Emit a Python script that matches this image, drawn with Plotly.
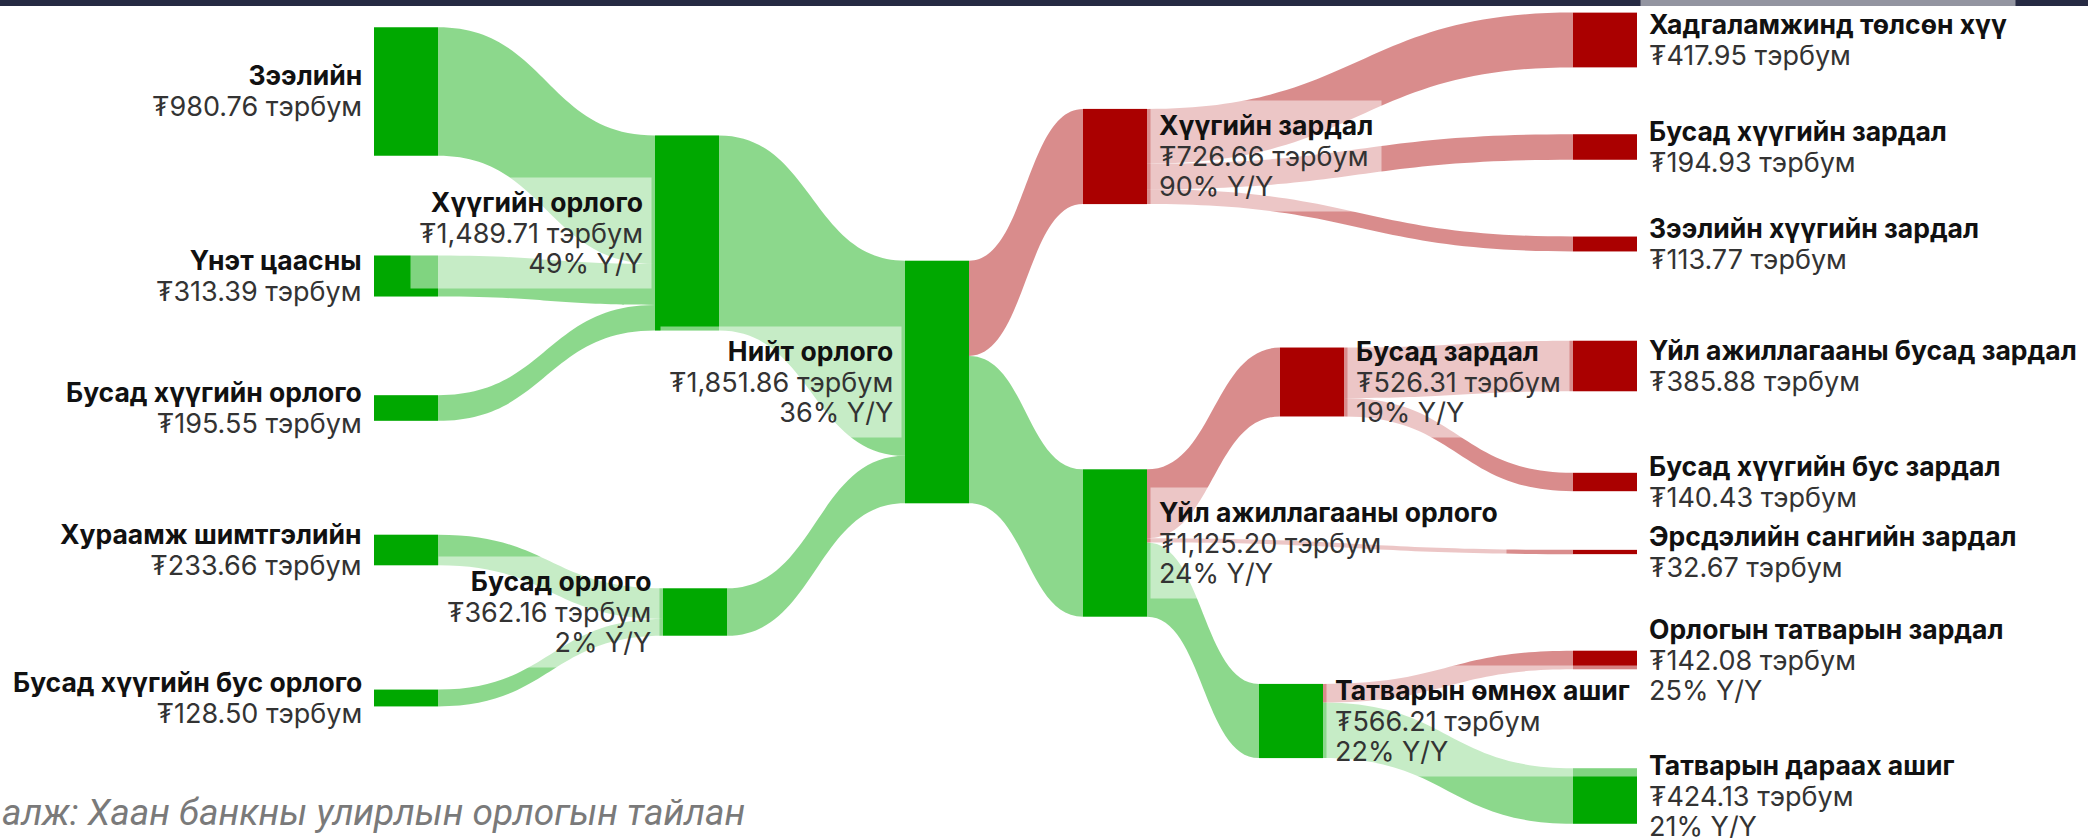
import plotly.graph_objects as go

# ---------------- data ----------------
node_names = [
    "Зээлийн", "Үнэт цаасны", "Бусад хүүгийн орлого", "Хураамж шимтгэлийн",
    "Бусад хүүгийн бус орлого", "Хүүгийн орлого", "Бусад орлого", "Нийт орлого",
    "Хүүгийн зардал", "Үйл ажиллагааны орлого", "Бусад зардал", "Татварын өмнөх ашиг",
    "Хадгаламжинд төлсөн хүү", "Бусад хүүгийн зардал", "Зээлийн хүүгийн зардал",
    "Үйл ажиллагааны бусад зардал", "Бусад хүүгийн бус зардал",
    "Эрсдэлийн сангийн зардал", "Орлогын татварын зардал", "Татварын дараах ашиг",
]
node_values = [
    980.76, 313.39, 195.55, 233.66, 128.50, 1489.71, 362.16, 1851.86,
    726.66, 1125.20, 526.31, 566.21, 417.95, 194.93, 113.77, 385.88,
    140.43, 32.67, 142.08, 424.13,
]
node_yoy = [
    None, None, None, None, None, 49, 2, 36,
    90, 24, 19, 22, None, None, None, None,
    None, None, 25, 21,
]
node_kind = [
    "in", "in", "in", "in", "in", "in", "in", "in",
    "out", "in", "out", "in", "out", "out", "out", "out",
    "out", "out", "out", "in",
]

link_source = [0, 1, 2, 3, 4, 5, 6, 7, 7, 8, 8, 8, 9, 9, 9, 10, 10, 11, 11]
link_target = [5, 5, 5, 6, 6, 7, 7, 8, 9, 12, 13, 14, 10, 17, 11, 15, 16, 18, 19]
link_value = [980.76, 313.39, 195.55, 233.66, 128.50, 1489.71, 362.16, 726.66, 1125.20,
              417.95, 194.93, 113.77, 526.31, 32.67, 566.21, 385.88, 140.43, 142.08, 424.13]

source_note = "алж: Хаан банкны улирлын орлогын тайлан"

# ---------------- layout / style ----------------
W, H = 2088, 838
SANKEY_H = 727          # height of the sankey domain (controls node scale)
THICK = 64
PAD = 69.2
GAP = 3

# node centres in page pixels
node_cx = [406, 406, 406, 406, 406, 687, 695, 937,
           1115, 1115, 1312, 1291, 1605, 1605, 1605, 1605,
           1605, 1605, 1605, 1605]
node_cy = [91.5, 276, 408, 550, 698, 233, 612, 382,
           156.5, 543, 382, 721, 40, 147, 244, 366,
           482, 552, 660, 796]
label_side = ["left"] * 8 + ["right"] * 12

GREEN, RED = "#00a800", "#aa0000"
GREEN_LINK, RED_LINK = "rgba(0,168,0,0.45)", "rgba(170,0,0,0.45)"

node_colors = [GREEN if k == "in" else RED for k in node_kind]
link_colors = [GREEN_LINK if node_kind[t] == "in" else RED_LINK for t in link_target]

fig = go.Figure(go.Sankey(
    arrangement="fixed",
    domain=dict(x=[0, 1], y=[1 - SANKEY_H / H, 1]),
    node=dict(
        label=[""] * len(node_names),
        customdata=node_names,
        hovertemplate="%{customdata}<br>₮%{value:,.2f} тэрбум<extra></extra>",
        color=node_colors,
        thickness=THICK,
        pad=PAD,
        line=dict(width=0),
        x=[cx / W for cx in node_cx],
        y=[cy / SANKEY_H for cy in node_cy],
    ),
    link=dict(
        source=link_source,
        target=link_target,
        value=link_value,
        color=link_colors,
        hovertemplate="%{source.customdata} → %{target.customdata}<br>₮%{value:,.2f} тэрбум<extra></extra>",
    ),
))

FONT = "Inter"
annotations = []
for i, name in enumerate(node_names):
    txt = (f"<span style='font-size:26.5px;color:#111'><b>{name}</b></span>"
           f"<br><span style='font-size:27px'>₮{node_values[i]:,.2f} тэрбум</span>")
    if node_yoy[i] is not None:
        txt += f"<br><span style='font-size:27px'>{node_yoy[i]}% Y/Y</span>"
    if label_side[i] == "left":
        x = (node_cx[i] - THICK / 2 - GAP) / W
        xa, al = "right", "right"
    else:
        x = (node_cx[i] + THICK / 2 + GAP) / W
        xa, al = "left", "left"
    annotations.append(dict(
        x=x, y=1 - node_cy[i] / H, xref="paper", yref="paper",
        xanchor=xa, yanchor="middle", align=al, showarrow=False,
        text=txt, font=dict(family=FONT, size=23.5, color="#333"),
        bgcolor="rgba(255,255,255,0.5)", borderpad=8,
    ))

annotations.append(dict(
    x=0, y=1 - 812 / H, xref="paper", yref="paper", xanchor="left", yanchor="middle",
    showarrow=False, text=source_note,
    font=dict(family="Roboto", size=37, color="#7a7a7a", style="italic"),
))

fig.update_layout(
    width=W, height=H,
    margin=dict(l=0, r=0, t=0, b=0),
    paper_bgcolor="white",
    annotations=annotations,
    shapes=[dict(type="rect", xref="paper", yref="paper", x0=0, x1=1,
                 y0=1 - 6 / H, y1=1, fillcolor="#262a43", line=dict(width=0),
                 layer="above")],
)

fig.write_html("out.html",
               config={"displayModeBar": False},
               post_script="document.body.style.margin='0';document.body.style.overflow='hidden';")
